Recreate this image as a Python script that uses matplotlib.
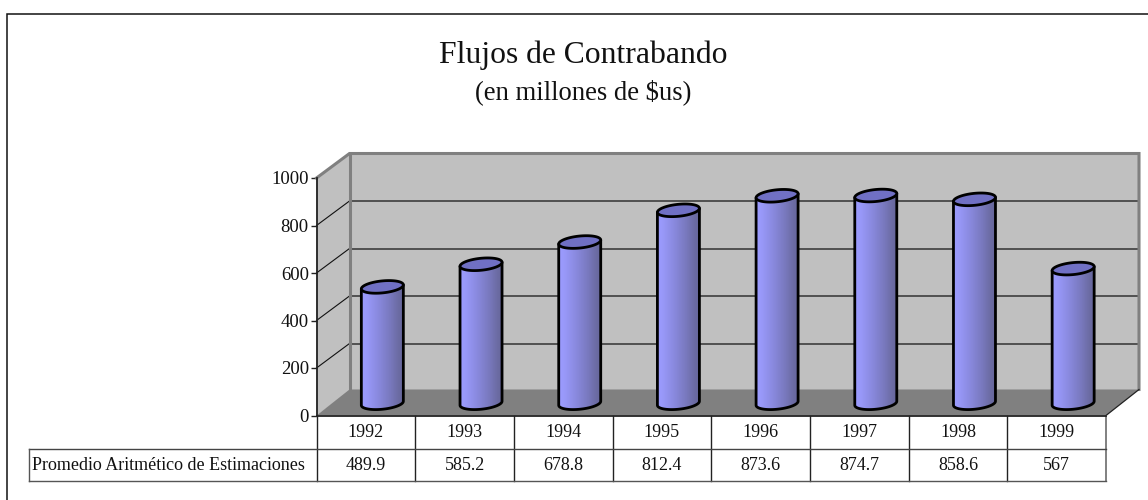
"""Flujos de Contrabando: columnas cilindricas en falso 3D con tabla de datos."""

import matplotlib
matplotlib.use("Agg")
import matplotlib.pyplot as plt
import numpy as np
from matplotlib.colors import LinearSegmentedColormap
from matplotlib.patches import Polygon

plt.rcParams["font.family"] = ["Liberation Serif", "DejaVu Serif"]

ANIOS = ["1992", "1993", "1994", "1995", "1996", "1997", "1998", "1999"]
VALORES = [489.9, 585.2, 678.8, 812.4, 873.6, 874.7, 858.6, 567]
ETIQUETAS_TABLA = ["489.9", "585.2", "678.8", "812.4", "873.6", "874.7", "858.6", "567"]
NOMBRE_SERIE = "Promedio Aritmético de Estimaciones"
TICKS_Y = [0, 200, 400, 600, 800, 1000]

W, H = 1148, 500
X0, X1 = 316.5, 1106.0   # plano frontal, en pixeles
Y0, Y1 = 415.5, 178.0
PX = len(ANIOS) / (X1 - X0)   # unidades de categoria por pixel
PY = 1000 / (Y0 - Y1)         # unidades de valor por pixel
PROF_X = 33 * PX   # profundidad del piso
PROF_Y = 24.5 * PY
PISO_Y = 26 * PY   # el piso sube un poco mas que la rejilla

GRIS_PARED = "#C0C0C0"
GRIS_PISO = "#808080"
GRIS_BORDE = "#808080"

fig = plt.figure(figsize=(W / 100, H / 100), dpi=100, facecolor="white")

# capa en pixeles para el marco y los titulos
fondo = fig.add_axes([0, 0, 1, 1])
fondo.set_xlim(0, W)
fondo.set_ylim(H, 0)
fondo.axis("off")
fondo.plot([6.5, 6.5, W], [H, 13.5, 13.5], color="#111111", lw=1.1, solid_joinstyle="miter")
fondo.text(583, 63, "Flujos de Contrabando", ha="center", va="baseline", fontsize=22.8, color="#111111")
fondo.text(583, 99, "(en millones de $us)", ha="center", va="baseline", fontsize=19.2, color="#111111")

ax = fig.add_axes([X0 / W, 1 - Y0 / H, (X1 - X0) / W, (Y0 - Y1) / H])
ax.patch.set_visible(False)


def poly(puntos, **kw):
    p = Polygon(puntos, closed=True, clip_on=False, **kw)
    ax.add_patch(p)
    return p


n = len(ANIOS)
# paredes y piso
poly([(0, 0), (PROF_X, PROF_Y), (PROF_X, 1000 + PROF_Y), (0, 1000)], fc=GRIS_PARED, ec="none", zorder=1)
poly([(PROF_X, PROF_Y), (n + PROF_X, PROF_Y), (n + PROF_X, 1000 + PROF_Y), (PROF_X, 1000 + PROF_Y)],
     fc=GRIS_PARED, ec="none", zorder=1)
poly([(0, 0), (n, 0), (n + PROF_X, PISO_Y), (PROF_X, PISO_Y)], fc=GRIS_PISO, ec="none", zorder=1.5)

for t in TICKS_Y[1:-1]:
    ax.plot([0, PROF_X], [t, t + PROF_Y], color="#111111", lw=0.8, clip_on=False, zorder=2)
    ax.plot([PROF_X, n + PROF_X], [t + PROF_Y, t + PROF_Y], color="#333333", lw=1.1, clip_on=False, zorder=2)

# bordes grises de las paredes
ax.plot([0, PROF_X, n + PROF_X, n + PROF_X], [1000, 1000 + PROF_Y, 1000 + PROF_Y, PISO_Y],
        color=GRIS_BORDE, lw=2.2, clip_on=False, zorder=2.2, solid_joinstyle="miter")
ax.plot([PROF_X, PROF_X], [PISO_Y, 1000 + PROF_Y], color=GRIS_BORDE, lw=2.2, clip_on=False, zorder=2.2)
ax.plot([n, n + PROF_X], [0, PISO_Y], color="#222222", lw=0.9, clip_on=False, zorder=2.2)

# cilindros
degradado = LinearSegmentedColormap.from_list(
    "cilindro", ["#9C9CFF", "#9898F8", "#9090EA", "#8888DC", "#8080CC", "#7878BC", "#6E6EA8", "#66669A"])
banda = np.linspace(0, 1, 120).reshape(1, -1)
RADIO = 21.0 * PX
ALTO_TAPA = 6.0 * PY
INCLINA = 2.0 * PY   # la elipse sube hacia la derecha
ang = np.linspace(0, 2 * np.pi, 120)


def elipse(xc, yc, a):
    return xc + RADIO * np.cos(a), yc + ALTO_TAPA * np.sin(a) + INCLINA * np.cos(a)


for i, valor in enumerate(VALORES):
    xc = i + 0.5 + PROF_X / 2
    base = PROF_Y / 2
    tope = valor + PROF_Y / 2
    a_inf = np.linspace(np.pi, 2 * np.pi, 60)
    xb, yb = elipse(xc, base, a_inf)
    puntos = [(xc - RADIO, tope - INCLINA)] + list(zip(xb, yb)) + [(xc + RADIO, tope + INCLINA)]
    cuerpo = poly(puntos, fc="none", ec="black", lw=2.0, zorder=4, joinstyle="round")
    im = ax.imshow(banda, cmap=degradado, aspect="auto", zorder=3, interpolation="bilinear",
                   extent=(xc - RADIO, xc + RADIO, base - ALTO_TAPA - INCLINA, tope + INCLINA))
    im.set_clip_path(cuerpo)
    xt, yt = elipse(xc, tope, ang)
    poly(list(zip(xt, yt)), fc="#7070C4", ec="black", lw=2.0, zorder=5)

ax.set_xlim(0, n)
ax.set_ylim(0, 1000)
ax.set_xticks([])
ax.set_yticks(TICKS_Y)
ax.tick_params(axis="y", length=4, width=1.0, color="#222222", pad=1.5, labelsize=13.5, labelcolor="#111111")
for lado in ["top", "right"]:
    ax.spines[lado].set_visible(False)
for lado in ["left", "bottom"]:
    ax.spines[lado].set_color("#222222")
    ax.spines[lado].set_linewidth(1.3)
    ax.spines[lado].set_zorder(6)

# tabla de datos, filas medidas en pixeles bajo el eje
FILA_1 = -33.5 * PY
FILA_2 = -65.5 * PY
IZQ = (28.5 - X0) * PX
kw = dict(clip_on=False, zorder=6, lw=1.0)
for i in range(n):
    ax.plot([i, i], [0, FILA_2], color="#222222", **kw)
ax.plot([n, n], [0, FILA_2], color=GRIS_BORDE, lw=1.4, clip_on=False, zorder=6)
ax.plot([IZQ, n], [FILA_1, FILA_1], color="#444444", **kw)
ax.plot([IZQ, n], [FILA_2, FILA_2], color="#555555", **kw)
ax.plot([IZQ, IZQ], [FILA_1, FILA_2], color="#555555", **kw)
for i, (anio, etq) in enumerate(zip(ANIOS, ETIQUETAS_TABLA)):
    ax.text(i + 0.5, FILA_1 / 2, anio, ha="center", va="center", fontsize=13, color="#111111")
    ax.text(i + 0.5, (FILA_1 + FILA_2) / 2, etq, ha="center", va="center", fontsize=13, color="#111111")
ax.text(IZQ + 3 * PX, (FILA_1 + FILA_2) / 2, NOMBRE_SERIE, ha="left", va="center", fontsize=13, color="#111111")

fig.savefig("out.png", dpi=100)
